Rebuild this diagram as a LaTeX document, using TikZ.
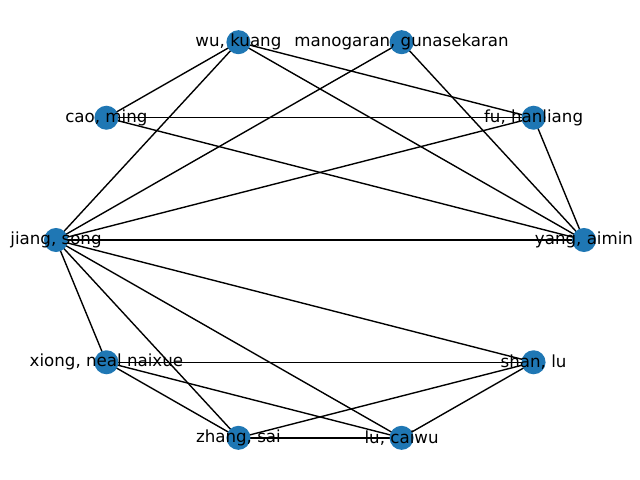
\documentclass[tikz,border=0pt]{standalone}
\usepackage{fontspec}
\setmainfont{DejaVu Sans}
\definecolor{nodeblue}{HTML}{1F77B4}
\begin{document}
\begin{tikzpicture}[x=0.72pt,y=-0.72pt,
  vertex/.style={circle,fill=nodeblue,inner sep=0pt,minimum size=17.3pt},
  lbl/.style={inner sep=0pt,font=\fontsize{12pt}{14pt}\selectfont,text=black},
  edge/.style={black,line width=1pt}]
\useasboundingbox (0,0) rectangle (640,480);
\def\cx{320}\def\cy{240}\def\rx{264}\def\ry{208}
\foreach \name/\ang in {yang/0,fu/36,mano/72,wu/108,cao/144,jiang/180,xiong/216,zhang/252,lu/288,shan/324}{
  \coordinate (\name) at ({\cx+\rx*cos(\ang)},{\cy-\ry*sin(\ang)});
}
\foreach \a/\b in {wu/cao,wu/jiang,wu/fu,wu/yang,mano/jiang,mano/yang,cao/fu,cao/yang,fu/jiang,fu/yang,jiang/yang,jiang/xiong,jiang/zhang,jiang/lu,jiang/shan,xiong/shan,xiong/zhang,xiong/lu,zhang/shan,zhang/lu,lu/shan}{
  \draw[edge] (\a) -- (\b);
}
\foreach \name in {yang,fu,mano,wu,cao,jiang,xiong,zhang,lu,shan}{
  \node[vertex] (v\name) at (\name) {};
}
\node[lbl] (tyang) at (yang) {yang, aimin};
\node[lbl] (tfu) at (fu) {fu, hanliang};
\node[lbl] (tmano) at (mano) {manogaran, gunasekaran};
\node[lbl] (twu) at (wu) {wu, kuang};
\node[lbl] (tcao) at (cao) {cao, ming};
\node[lbl] (tjiang) at (jiang) {jiang, song};
\node[lbl] (txiong) at (xiong) {xiong, neal naixue};
\node[lbl] (tzhang) at (zhang) {zhang, sai};
\node[lbl] (tlu) at (lu) {lu, caiwu};
\node[lbl] (tshan) at (shan) {shan, lu};
\end{tikzpicture}
\end{document}
